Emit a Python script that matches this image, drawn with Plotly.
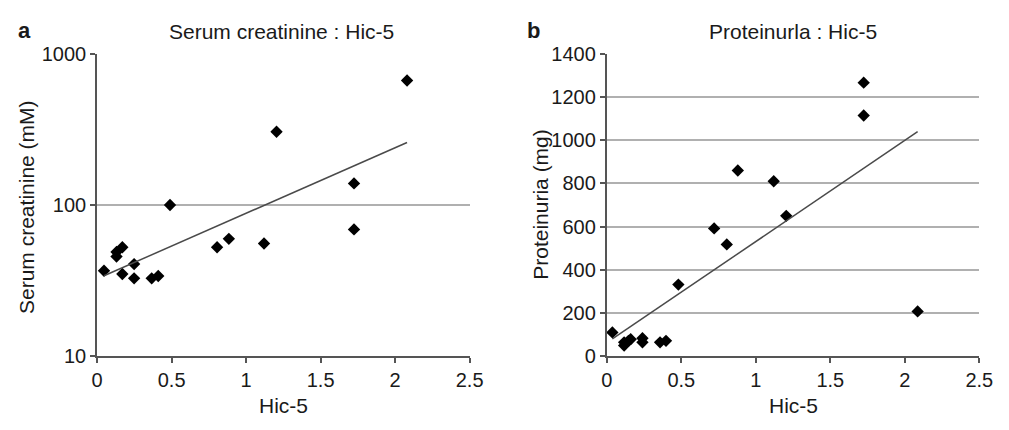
import numpy as np
import plotly.graph_objects as go

# Panel a: Serum creatinine vs Hic-5
hic5_a = [0.046, 0.13, 0.13, 0.169, 0.169, 0.248, 0.248, 0.366, 0.41, 0.489,
          0.805, 0.884, 1.12, 1.204, 1.724, 1.724, 2.08]
creatinine = [36.8, 49, 45.7, 52.6, 35, 40.7, 32.8, 32.8, 34, 100,
              52.6, 59.8, 55.7, 305, 139, 69, 665]

# Panel b: Proteinuria vs Hic-5
hic5_b = [0.037, 0.116, 0.116, 0.145, 0.16, 0.239, 0.239, 0.357, 0.397, 0.48,
          0.72, 0.805, 0.879, 1.12, 1.204, 1.724, 1.724, 2.086]
proteinuria = [111, 50, 65, 72, 79, 84, 65, 65, 72, 332,
               592, 518, 860, 810, 650, 1266, 1114, 208]

x_ticks = [0, 0.5, 1, 1.5, 2, 2.5]
x_ticklabels = ["0", "0.5", "1", "1.5", "2", "2.5"]
ya_ticks = [10, 100, 1000]
yb_ticks = [0, 200, 400, 600, 800, 1000, 1200, 1400]

FONT = "Liberation Sans, Arial, sans-serif"
TXT = "#1a1a1a"
AX = "#555555"
GRID = "#b0b0b0"
W, H = 1009, 430

fig = go.Figure()

marker = dict(symbol="diamond", size=9.5, color="black")
trend = dict(color="#4a4a4a", width=1.5)

fig.add_trace(go.Scatter(x=hic5_a, y=creatinine, mode="markers", marker=marker,
                         xaxis="x", yaxis="y", showlegend=False))
ba, aa = np.polyfit(np.array(hic5_a), np.log(np.array(creatinine)), 1)
xa_fit = np.array([min(hic5_a), max(hic5_a)])
fig.add_trace(go.Scatter(x=xa_fit, y=np.exp(aa + ba * xa_fit), mode="lines", line=trend,
                         xaxis="x", yaxis="y", showlegend=False))

fig.add_trace(go.Scatter(x=hic5_b, y=proteinuria, mode="markers", marker=marker,
                         xaxis="x2", yaxis="y2", showlegend=False))
bb, ab = np.polyfit(np.array(hic5_b), np.array(proteinuria), 1)
xb_fit = np.array([min(hic5_b), max(hic5_b)])
fig.add_trace(go.Scatter(x=xb_fit, y=ab + bb * xb_fit, mode="lines", line=trend,
                         xaxis="x2", yaxis="y2", showlegend=False))

xcommon = dict(range=[0, 2.5], tickvals=x_ticks, ticktext=x_ticklabels,
               showline=True, linecolor=AX, linewidth=2, ticks="outside", ticklen=5,
               tickcolor=AX, tickwidth=1.5, showgrid=False, zeroline=False,
               tickfont=dict(size=20, color=TXT, family=FONT), fixedrange=True)
ycommon = dict(showline=True, linecolor=AX, linewidth=2, ticks="outside", ticklen=5,
               tickcolor=AX, tickwidth=1.5, showgrid=True, gridcolor=GRID, gridwidth=2,
               zeroline=False, tickfont=dict(size=20, color=TXT, family=FONT), fixedrange=True)

ydom = [1 - 364 / H, 1 - 45 / H]
fig.update_layout(
    width=W, height=H,
    margin=dict(l=0, r=0, t=0, b=0),
    paper_bgcolor="white", plot_bgcolor="white",
    font=dict(family=FONT, color=TXT),
    xaxis=dict(domain=[93 / W, 473 / W], anchor="y", **xcommon),
    yaxis=dict(domain=ydom, anchor="x", type="log", range=[1, 3],
               tickvals=ya_ticks, ticktext=[str(v) for v in ya_ticks], **ycommon),
    xaxis2=dict(domain=[613 / W, 993 / W], anchor="y2", **xcommon),
    yaxis2=dict(domain=ydom, anchor="x2", range=[0, 1400], tickvals=yb_ticks, **ycommon),
)

def ann(text, x, y, size=21, angle=0, bold=False, xanchor="center"):
    fig.add_annotation(text=f"<b>{text}</b>" if bold else text,
                       x=x / W, y=1 - y / H, xref="paper", yref="paper",
                       xanchor=xanchor, yanchor="middle", showarrow=False, textangle=angle,
                       font=dict(size=size, color=TXT, family=FONT))

ann("a", 10, 21, size=22, bold=True, xanchor="left")
ann("b", 529, 21, size=22, bold=True, xanchor="left")
ann("Serum creatinine : Hic-5", 281, 22)
ann("Proteinurla : Hic-5", 803, 22)
ann("Hic-5", 283, 416)
ann("Hic-5", 803, 416)
ann("Serum creatinine (mM)", 21, 207, angle=-90)
ann("Proteinuria (mg)", 545, 204, angle=-90)

# Pin the figure to the page's top-left corner so the page is exactly the figure size
pin = (
    "var d=document.getElementById('{plot_id}');"
    "document.documentElement.style.margin='0';"
    "document.body.style.margin='0';document.body.style.overflow='hidden';"
    "d.style.position='fixed';d.style.left='0px';d.style.top='0px';"
)

fig.write_html("out.html", post_script=pin, config={"displayModeBar": False})
